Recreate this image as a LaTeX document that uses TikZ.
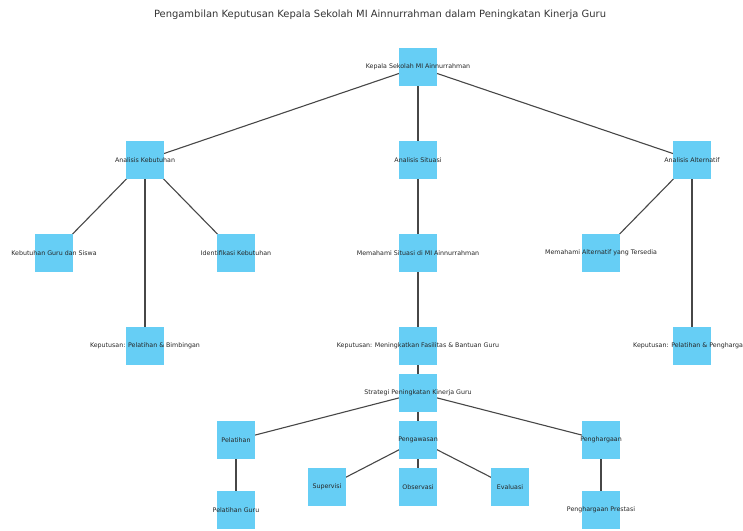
\documentclass[tikz,border=0pt]{standalone}
\usepackage{fontspec}
\setmainfont{DejaVu Sans}
\definecolor{boxblue}{HTML}{66CEF5}
\tikzset{
  sq/.style={rectangle, fill=boxblue, draw=none, minimum width=38pt, minimum height=38pt, inner sep=0pt},
  lbl/.style={inner sep=0pt, font=\fontsize{6.3}{7}\selectfont, text=black!85},
  edge/.style={draw=black!72, line width=1.1pt}
}
\begin{document}
\begin{tikzpicture}[x=1pt,y=1pt]
\useasboundingbox (0,0) rectangle (743,530);
\clip (0,0) rectangle (743,530);
\node[font=\fontsize{9.95}{11}\selectfont, text=black!80] (title) at (380,515) {Pengambilan Keputusan Kepala Sekolah MI Ainnurrahman dalam Peningkatan Kinerja Guru};
% coordinates of nodes
\coordinate (pkep) at (418,463);
\coordinate (pak) at (145,370);
\coordinate (pas) at (418,370);
\coordinate (paa) at (692,370);
\coordinate (pkgs) at (54,277);
\coordinate (pik) at (236,277);
\coordinate (pms) at (418,277);
\coordinate (pma) at (601,277);
\coordinate (pkpb) at (145,184);
\coordinate (pkm) at (418,184);
\coordinate (pkpp) at (692,184);
\coordinate (pstr) at (418,137);
\coordinate (ppel) at (236,90);
\coordinate (ppen) at (418,90);
\coordinate (pphg) at (601,90);
\coordinate (psup) at (327,43);
\coordinate (pobs) at (418,43);
\coordinate (peva) at (510,43);
\coordinate (ppg) at (236,20);
\coordinate (ppp) at (601,20);
% edges
\draw[edge] (pkep) -- (pak);
\draw[edge] (pkep) -- (pas);
\draw[edge] (pkep) -- (paa);
\draw[edge] (pak) -- (pkgs);
\draw[edge] (pak) -- (pik);
\draw[edge] (pak) -- (pkpb);
\draw[edge] (pas) -- (pms);
\draw[edge] (paa) -- (pma);
\draw[edge] (paa) -- (pkpp);
\draw[edge] (pms) -- (pkm);
\draw[edge] (pkm) -- (pstr);
\draw[edge] (pstr) -- (ppel);
\draw[edge] (pstr) -- (ppen);
\draw[edge] (pstr) -- (pphg);
\draw[edge] (ppel) -- (ppg);
\draw[edge] (ppen) -- (psup);
\draw[edge] (ppen) -- (pobs);
\draw[edge] (ppen) -- (peva);
\draw[edge] (pphg) -- (ppp);
% squares
\foreach \n in {kep,ak,as,aa,kgs,ik,ms,ma,kpb,km,kpp,str,pel,pen,phg,sup,obs,eva,pg,pp}
  \node[sq] (\n) at (p\n) {};
% labels
\node[lbl] (kep-l) at (kep) {Kepala Sekolah MI Ainnurrahman};
\node[lbl] (ak-l) at (ak) {Analisis Kebutuhan};
\node[lbl] (as-l) at (as) {Analisis Situasi};
\node[lbl] (aa-l) at (aa) {Analisis Alternatif};
\node[lbl] (kgs-l) at (kgs) {Kebutuhan Guru dan Siswa};
\node[lbl] (ik-l) at (ik) {Identifikasi Kebutuhan};
\node[lbl] (ms-l) at (ms) {Memahami Situasi di MI Ainnurrahman};
\node[lbl] (ma-l) at (ma) {Memahami Alternatif yang Tersedia};
\node[lbl] (kpb-l) at (kpb) {Keputusan: Pelatihan \& Bimbingan};
\node[lbl] (km-l) at (km) {Keputusan: Meningkatkan Fasilitas \& Bantuan Guru};
\node[lbl] (kpp-l) at (kpp) {Keputusan: Pelatihan \& Penghargaan};
\node[lbl] (str-l) at (str) {Strategi Peningkatan Kinerja Guru};
\node[lbl] (pel-l) at (pel) {Pelatihan};
\node[lbl] (pen-l) at (pen) {Pengawasan};
\node[lbl] (phg-l) at (phg) {Penghargaan};
\node[lbl] (sup-l) at (sup) {Supervisi};
\node[lbl] (obs-l) at (obs) {Observasi};
\node[lbl] (eva-l) at (eva) {Evaluasi};
\node[lbl] (pg-l) at (pg) {Pelatihan Guru};
\node[lbl] (pp-l) at (pp) {Penghargaan Prestasi};
\end{tikzpicture}
\end{document}
